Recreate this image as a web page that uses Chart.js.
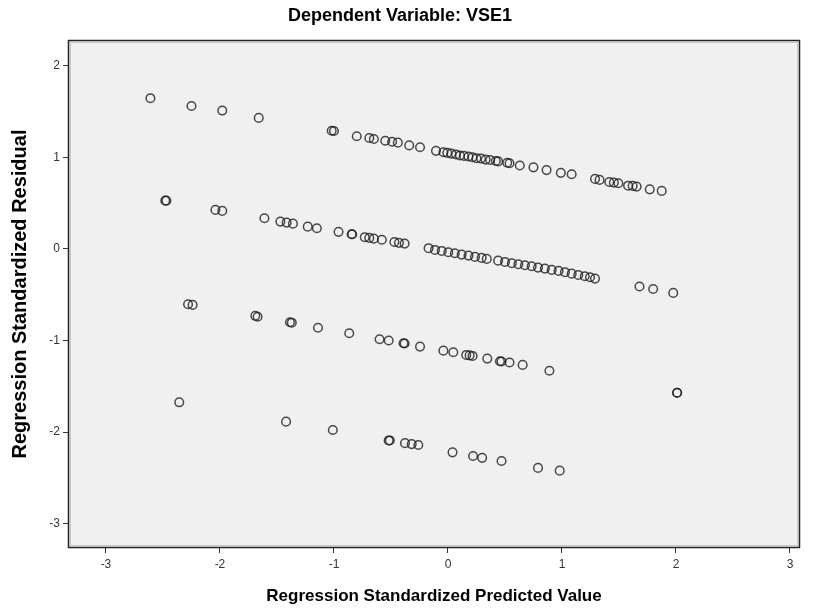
<!DOCTYPE html>
<html><head><meta charset="utf-8">
<script src="https://cdn.jsdelivr.net/npm/chart.js@4"></script>
<style>html,body{margin:0;padding:0;background:#fff}#wrap{width:817px;height:614px}</style>
</head><body><div id="wrap"><canvas id="c" width="817" height="614"></canvas></div>
<script>
const chartTitle = 'Dependent Variable: VSE1';
const xAxisTitle = 'Regression Standardized Predicted Value';
const yAxisTitle = 'Regression Standardized Residual';
const xTicks = [-3, -2, -1, 0, 1, 2, 3];
const yTicks = [-3, -2, -1, 0, 1, 2];

const band1Pred  = [-2.61, -2.25, -1.98, -1.66, -1.02, -1.00, -0.80, -0.69, -0.65, -0.55, -0.49, -0.44, -0.34, -0.245, -0.105, -0.04, -0.006, 0.03, 0.07, 0.105, 0.14, 0.18, 0.215, 0.25, 0.29, 0.33, 0.37, 0.42, 0.44, 0.52, 0.54, 0.63, 0.75, 0.865, 0.99, 1.085, 1.29, 1.33, 1.415, 1.455, 1.495, 1.58, 1.62, 1.655, 1.77, 1.875];
const band1Resid = [1.645, 1.56, 1.51, 1.43, 1.29, 1.287, 1.23, 1.21, 1.20, 1.18, 1.17, 1.16, 1.13, 1.11, 1.07, 1.055, 1.048, 1.04, 1.03, 1.02, 1.015, 1.008, 1.00, 0.99, 0.986, 0.975, 0.97, 0.96, 0.955, 0.94, 0.935, 0.91, 0.89, 0.86, 0.83, 0.815, 0.764, 0.753, 0.73, 0.724, 0.717, 0.69, 0.688, 0.68, 0.65, 0.633];

const band2Pred  = [-2.48, -2.47, -2.04, -1.98, -1.61, -1.47, -1.415, -1.36, -1.23, -1.15, -0.96, -0.845, -0.84, -0.73, -0.69, -0.65, -0.58, -0.47, -0.43, -0.38, -0.17, -0.114, -0.055, 0.003, 0.06, 0.12, 0.18, 0.237, 0.295, 0.34, 0.44, 0.50, 0.56, 0.617, 0.675, 0.734, 0.79, 0.85, 0.91, 0.97, 1.026, 1.085, 1.143, 1.20, 1.246, 1.29, 1.68, 1.80, 1.976];
const band2Resid = [0.527, 0.527, 0.426, 0.415, 0.335, 0.298, 0.287, 0.276, 0.243, 0.226, 0.186, 0.16, 0.16, 0.128, 0.12, 0.112, 0.10, 0.076, 0.066, 0.058, 0.008, -0.011, -0.022, -0.036, -0.047, -0.062, -0.073, -0.087, -0.098, -0.109, -0.128, -0.142, -0.156, -0.167, -0.178, -0.189, -0.204, -0.215, -0.229, -0.24, -0.254, -0.27, -0.284, -0.298, -0.309, -0.324, -0.41, -0.437, -0.48];

const band3Pred  = [-2.28, -2.24, -1.69, -1.67, -1.386, -1.37, -1.14, -0.866, -0.60, -0.52, -0.39, -0.38, -0.245, -0.04, 0.047, 0.16, 0.19, 0.216, 0.345, 0.456, 0.47, 0.54, 0.655, 0.89, 2.01, 2.01];
const band3Resid = [-0.604, -0.611, -0.73, -0.74, -0.80, -0.805, -0.86, -0.92, -0.986, -1.00, -1.03, -1.032, -1.066, -1.11, -1.128, -1.157, -1.162, -1.168, -1.197, -1.226, -1.229, -1.24, -1.266, -1.33, -1.57, -1.57];

const band4Pred  = [-2.357, -1.42, -1.01, -0.52, -0.51, -0.377, -0.318, -0.26, 0.04, 0.22, 0.30, 0.47, 0.79, 0.98];
const band4Resid = [-1.674, -1.885, -1.976, -2.09, -2.09, -2.12, -2.13, -2.14, -2.22, -2.26, -2.28, -2.314, -2.39, -2.42];

const toPoints = (xs, ys) => xs.map((x, i) => ({ x: x, y: ys[i] }));
const allPoints = [].concat(
  toPoints(band1Pred, band1Resid),
  toPoints(band2Pred, band2Resid),
  toPoints(band3Pred, band3Resid),
  toPoints(band4Pred, band4Resid)
);

const FONT = "'Liberation Sans', Arial, sans-serif";

const plotFrame = {
  id: 'plotFrame',
  beforeDatasetsDraw(chart) {
    const { ctx, chartArea: a } = chart;
    ctx.save();
    ctx.fillStyle = '#f0f0f0';
    ctx.fillRect(a.left, a.top, a.right - a.left, a.bottom - a.top);
    ctx.restore();
  },
  afterDraw(chart) {
    const { ctx, chartArea: a } = chart;
    ctx.save();
    ctx.strokeStyle = '#c8c8c8';
    ctx.lineWidth = 1;
    ctx.strokeRect(a.left + 2.5, a.top + 2.5, a.right - a.left - 5, a.bottom - a.top - 5);
    ctx.strokeStyle = '#222';
    ctx.lineWidth = 1.5;
    ctx.strokeRect(a.left + 0.5, a.top + 0.5, a.right - a.left - 1, a.bottom - a.top - 1);
    ctx.restore();
  }
};

new Chart(document.getElementById('c'), {
  type: 'scatter',
  data: {
    datasets: [{
      data: allPoints,
      showLine: false,
      pointStyle: 'circle',
      pointRadius: 4.3,
      pointHoverRadius: 4.3,
      pointBorderWidth: 1.5,
      pointBorderColor: 'rgba(30,30,30,0.8)',
      pointBackgroundColor: 'rgba(0,0,0,0)'
    }]
  },
  options: {
    responsive: false,
    animation: false,
    events: [],
    layout: { padding: { left: 0, right: 17, top: 0, bottom: 0 } },
    plugins: {
      legend: { display: false },
      tooltip: { enabled: false },
      title: {
        display: true,
        text: chartTitle,
        color: '#000',
        font: { family: FONT, size: 18, weight: 'bold' },
        padding: { top: 5, bottom: 13.4 }
      }
    },
    scales: {
      x: {
        type: 'linear',
        min: -3.333,
        max: 3.088,
        afterBuildTicks: s => { s.ticks = xTicks.map(v => ({ value: v })); },
        afterFit: s => { s.height = 66; },
        border: { display: false },
        grid: { display: true, drawOnChartArea: false, drawTicks: true, tickLength: 5, color: '#333', lineWidth: 1 },
        ticks: { autoSkip: false, maxRotation: 0, padding: 4, color: '#333', font: { family: FONT, size: 12 } },
        title: { display: true, text: xAxisTitle, color: '#000', font: { family: FONT, size: 17, weight: 'bold' }, padding: { top: 0, bottom: 7 } }
      },
      y: {
        type: 'linear',
        min: -3.264,
        max: 2.28,
        afterBuildTicks: s => { s.ticks = yTicks.map(v => ({ value: v })); },
        afterFit: s => { s.width = 68; },
        border: { display: false },
        grid: { display: true, drawOnChartArea: false, drawTicks: true, tickLength: 5, color: '#333', lineWidth: 1 },
        ticks: { autoSkip: false, padding: 3, color: '#333', font: { family: FONT, size: 12 } },
        title: { display: true, text: yAxisTitle, color: '#000', font: { family: FONT, size: 20, weight: 'bold' }, padding: { top: 8, bottom: 0 } }
      }
    }
  },
  plugins: [plotFrame]
});
</script>
</body></html>
